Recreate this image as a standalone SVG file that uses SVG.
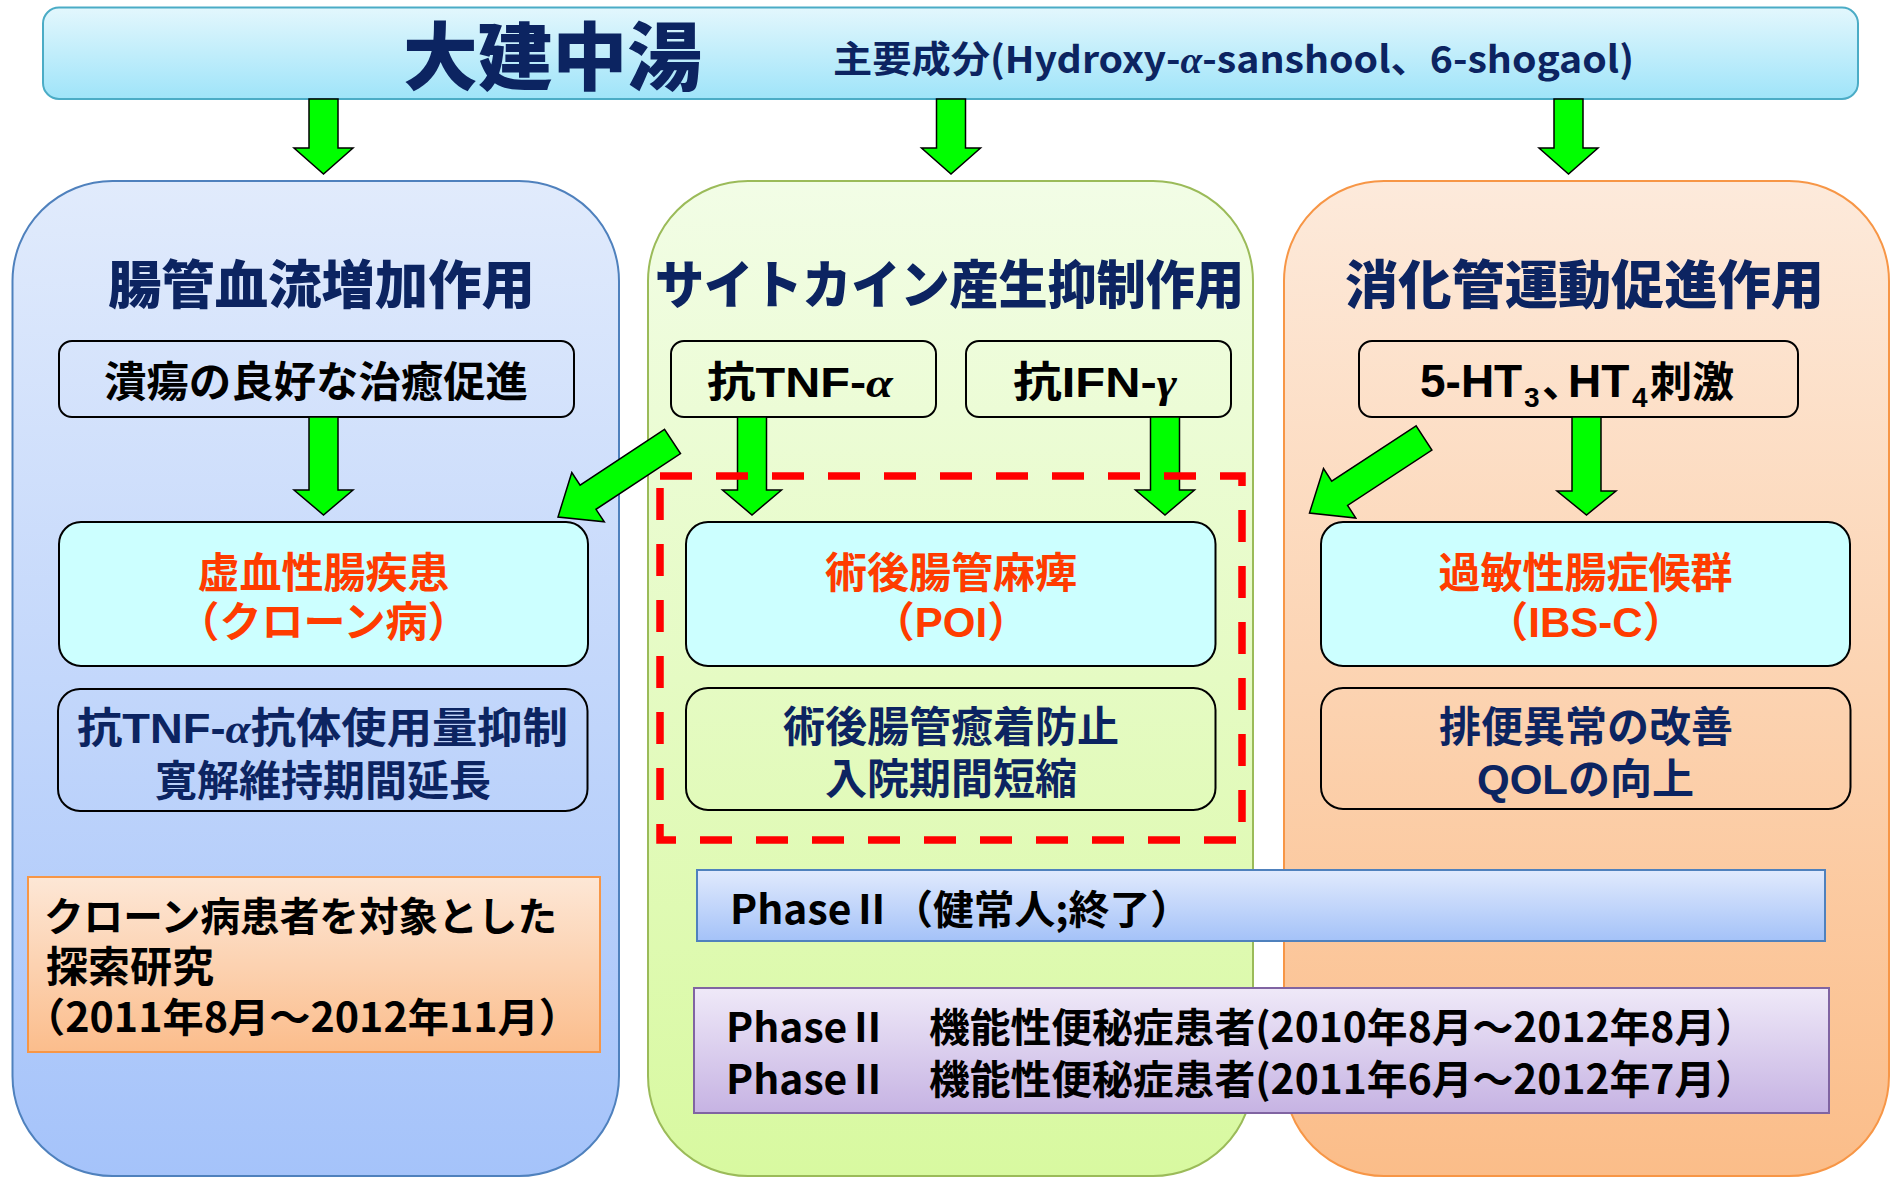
<svg xmlns="http://www.w3.org/2000/svg" width="1890" height="1177" viewBox="0 0 1890 1177">
<defs>
<linearGradient id="gBanner" x1="0" y1="0" x2="0" y2="1"><stop offset="0" stop-color="#e3f7fd"/><stop offset="1" stop-color="#9fe4f9"/></linearGradient>
<linearGradient id="gLeft" x1="0" y1="0" x2="0" y2="1"><stop offset="0" stop-color="#e1ebfc"/><stop offset="1" stop-color="#a5c3fa"/></linearGradient>
<linearGradient id="gMid" x1="0" y1="0" x2="0" y2="1"><stop offset="0" stop-color="#f2fde6"/><stop offset="1" stop-color="#d8f9a0"/></linearGradient>
<linearGradient id="gRight" x1="0" y1="0" x2="0" y2="1"><stop offset="0" stop-color="#fdeadb"/><stop offset="1" stop-color="#fbbd89"/></linearGradient>
<linearGradient id="gPhase1" x1="0" y1="0" x2="0" y2="1"><stop offset="0" stop-color="#e1eafd"/><stop offset="1" stop-color="#a4c2f8"/></linearGradient>
<linearGradient id="gPurple" x1="0" y1="0" x2="0" y2="1"><stop offset="0" stop-color="#efe9f8"/><stop offset="1" stop-color="#c6b3e3"/></linearGradient>
<linearGradient id="gCrohn" x1="0" y1="0" x2="0" y2="1"><stop offset="0" stop-color="#fde7d6"/><stop offset="1" stop-color="#fbbd8c"/></linearGradient>
</defs>
<style>
text { font-family: "Noto Sans CJK JP", "Noto Sans CJK SC", sans-serif; }
.mix { font-family: "Liberation Sans", "Noto Sans CJK JP", sans-serif; }
.title { fill: #0c2461; font-weight: 900; font-size: 74px; }
.sub { fill: #0c2461; font-weight: 700; font-size: 37px; }
.head { fill: #0c2461; font-weight: 900; font-size: 52px; }
.blk { fill: #000; font-weight: 700; font-size: 42px; }
.red { fill: #ff3c00; font-weight: 700; font-size: 42px; text-anchor: middle; }
.navy { fill: #0c2461; font-weight: 700; font-size: 42px; }
.ph { fill: #000; font-weight: 700; font-size: 40px; }
.mid { text-anchor: middle; }
.it { font-style: italic; font-family: "Liberation Serif", serif; }
.box { fill: none; stroke: #000; stroke-width: 2; }
.cyan { fill: #ccffff; stroke: #000; stroke-width: 2; }
.arrow { fill: #00ff00; stroke: #000; stroke-width: 1.5; stroke-linejoin: miter; }
</style>

<g id="col-left"><rect x="12.5" y="181" width="606.5" height="995" rx="100" fill="url(#gLeft)" stroke="#4f81bd" stroke-width="2"/></g>
<g id="col-mid"><rect x="648" y="181" width="605" height="995" rx="100" fill="url(#gMid)" stroke="#9bbb59" stroke-width="2"/></g>
<g id="col-right"><rect x="1284" y="181" width="605" height="995" rx="100" fill="url(#gRight)" stroke="#f79646" stroke-width="2"/></g>

<g id="banner">
<rect x="43" y="7.5" width="1815" height="91.5" rx="16" fill="url(#gBanner)" stroke="#4bacc6" stroke-width="2"/>
<text class="title" x="403" y="84" textLength="299" lengthAdjust="spacingAndGlyphs">大建中湯</text>
<text class="sub" x="833" y="73" textLength="801" lengthAdjust="spacingAndGlyphs">主要成分(Hydroxy-<tspan class="it">α</tspan>-sanshool、6-shogaol)</text>
</g>

<g id="head-left"><text class="head" x="108" y="304" textLength="427" lengthAdjust="spacingAndGlyphs">腸管血流増加作用</text></g>
<g id="head-mid"><text class="head" x="655" y="304" textLength="589" lengthAdjust="spacingAndGlyphs">サイトカイン産生抑制作用</text></g>
<g id="head-right"><text class="head" x="1345" y="304" textLength="479" lengthAdjust="spacingAndGlyphs">消化管運動促進作用</text></g>

<g id="ulcer">
<rect class="box" x="59" y="341" width="515" height="76" rx="13"/>
<text class="blk" x="104" y="397" textLength="424" lengthAdjust="spacingAndGlyphs">潰瘍の良好な治癒促進</text>
</g>
<g id="anti-tnf">
<rect class="box" x="671" y="341" width="265" height="76" rx="13"/>
<text class="blk mix" x="707" y="397" font-size="46" textLength="186" lengthAdjust="spacingAndGlyphs">抗TNF-<tspan class="it">α</tspan></text>
</g>
<g id="anti-ifn">
<rect class="box" x="966" y="341" width="265" height="76" rx="13"/>
<text class="blk mix" x="1013" y="397" font-size="46" textLength="164" lengthAdjust="spacingAndGlyphs">抗IFN-<tspan class="it">γ</tspan></text>
</g>
<g id="ht-stim">
<rect class="box" x="1359" y="341" width="439" height="76" rx="13"/>
<text class="blk mix" y="397"><tspan x="1420" font-size="46">5-HT</tspan><tspan x="1524" dy="10" font-size="28">3</tspan><tspan x="1542" dy="-10">、</tspan><tspan x="1568" font-size="46">HT</tspan><tspan x="1632" dy="10" font-size="28">4</tspan><tspan x="1650" dy="-10">刺激</tspan></text>
</g>

<g id="ischemic">
<rect class="cyan" x="59" y="522" width="529" height="144" rx="22"/>
<text class="red"><tspan x="323.5" y="588">虚血性腸疾患</tspan><tspan x="323.5" y="637">（クローン病）</tspan></text>
</g>
<g id="poi">
<rect class="cyan" x="686" y="522" width="529.5" height="144" rx="22"/>
<text class="red"><tspan x="951" y="588">術後腸管麻痺</tspan><tspan class="mix" x="951" y="637">（POI）</tspan></text>
</g>
<g id="ibs">
<rect class="cyan" x="1321" y="522" width="529" height="144" rx="22"/>
<text class="red"><tspan x="1585.5" y="588">過敏性腸症候群</tspan><tspan class="mix" x="1585.5" y="637">（IBS-C）</tspan></text>
</g>

<g id="tnf-antibody">
<rect class="box" x="58" y="689" width="529.5" height="122" rx="22"/>
<text class="navy mix" x="77" y="743" textLength="491" lengthAdjust="spacingAndGlyphs">抗TNF-<tspan class="it">α</tspan>抗体使用量抑制</text>
<text class="navy mid" x="323" y="796">寛解維持期間延長</text>
</g>
<g id="adhesion">
<rect class="box" x="686" y="688" width="529.5" height="122" rx="22"/>
<text class="navy mid"><tspan x="951" y="742">術後腸管癒着防止</tspan><tspan x="951" y="794">入院期間短縮</tspan></text>
</g>
<g id="qol">
<rect class="box" x="1321" y="688" width="529.5" height="121" rx="22"/>
<text class="navy mid"><tspan x="1586" y="742">排便異常の改善</tspan><tspan class="mix" x="1585.5" y="794">QOLの向上</tspan></text>
</g>

<g id="crohn-study">
<rect x="28" y="877" width="572" height="175" fill="url(#gCrohn)" stroke="#f79646" stroke-width="2"/>
<text class="ph"><tspan x="44" y="931" textLength="513" lengthAdjust="spacingAndGlyphs">クローン病患者を対象とした</tspan><tspan x="46" y="982" font-size="42">探索研究</tspan><tspan x="24" y="1032" textLength="556" lengthAdjust="spacingAndGlyphs">（2011年8月～2012年11月）</tspan></text>
</g>

<g id="phase-healthy">
<rect x="697" y="870" width="1128" height="71" fill="url(#gPhase1)" stroke="#4f81bd" stroke-width="2"/>
<text class="ph" x="730" y="924" textLength="461" lengthAdjust="spacingAndGlyphs">PhaseⅡ（健常人;終了）</text>
</g>

<g id="phase-constipation">
<rect x="694" y="988" width="1135" height="125" fill="url(#gPurple)" stroke="#8064a2" stroke-width="2"/>
<text class="ph"><tspan x="726" y="1042" textLength="1030" lengthAdjust="spacingAndGlyphs">PhaseⅡ　機能性便秘症患者(2010年8月～2012年8月）</tspan><tspan x="726" y="1094" textLength="1030" lengthAdjust="spacingAndGlyphs">PhaseⅡ　機能性便秘症患者(2011年6月～2012年7月）</tspan></text>
</g>

<g id="connectors">
<polygon class="arrow" points="309,99 338,99 338,148 353,148 323.5,174 294,148 309,148"/>
<polygon class="arrow" points="936.5,99 965.5,99 965.5,148 980.5,148 951,174 921.5,148 936.5,148"/>
<polygon class="arrow" points="1554,99 1583,99 1583,148 1598,148 1568.5,174 1539,148 1554,148"/>
<polygon class="arrow" points="309,417 338,417 338,490 353,490 323.5,515 294,490 309,490"/>
<polygon class="arrow" points="737.5,417 766.5,417 766.5,490 781.5,490 752,515 722.5,490 737.5,490"/>
<polygon class="arrow" points="1150.5,417 1179.5,417 1179.5,490 1194.5,490 1165,515 1135.5,490 1150.5,490"/>
<polygon class="arrow" points="1572,417 1601,417 1601,491 1616,491 1586.5,515 1557,491 1572,491"/>
<polygon class="arrow" points="664.5,429.4 580.1,485.1 571.8,472.6 558,517 604.3,521.8 596,509.3 680.5,453.6"/>
<polygon class="arrow" points="1416.1,425.9 1331.7,481.2 1323.5,468.6 1309.5,513 1355.8,518 1347.6,505.4 1431.9,450.1"/>
</g>

<g id="poi-frame">
<rect x="660" y="476" width="582" height="364" fill="none" stroke="#ff0000" stroke-width="7.5" stroke-dasharray="32 24"/>
</g>
</svg>
